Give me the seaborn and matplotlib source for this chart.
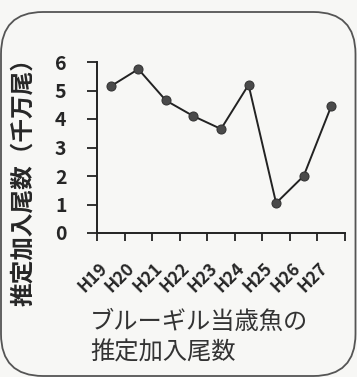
import pandas as pd
import matplotlib
matplotlib.use("Agg")
import matplotlib.pyplot as plt
import matplotlib.transforms as mtransforms
import seaborn as sns
from matplotlib.patches import FancyBboxPatch
from matplotlib.ticker import FixedLocator

years = ["H19", "H20", "H21", "H22", "H23", "H24", "H25", "H26", "H27"]
recruits = [5.15, 5.75, 4.65, 4.1, 3.65, 5.2, 1.05, 2.0, 4.45]
y_ticks = [0, 1, 2, 3, 4, 5, 6]

ylabel = "推定加入尾数（千万尾）"
caption = "ブルーギル当歳魚の\n推定加入尾数"

sns.set_style("white")
plt.rcParams["font.family"] = ["Noto Sans CJK JP", "DejaVu Sans"]

data = pd.DataFrame({"year": years, "n": recruits})

W, H = 357, 377
fig = plt.figure(figsize=(W / 100, H / 100), dpi=100)
fig.patch.set_facecolor("#f7f7f5")

# rounded frame (in inches)
frame = FancyBboxPatch((0.01, 0.01), 3.545, 3.64,
                       boxstyle="round,pad=0,rounding_size=0.42",
                       transform=fig.dpi_scale_trans, fill=False,
                       edgecolor="#555555", linewidth=1.3)
fig.patches.append(frame)

ax = fig.add_axes([97 / W, 1 - 233 / H, 248 / W, 171 / H])
ax.set_facecolor("none")
sns.lineplot(data=data, x="year", y="n", ax=ax, color="#222222",
             linewidth=1.4, marker="o", markersize=6.5,
             markerfacecolor="#4a4a4a", markeredgecolor="#333333")

ax.set_xlim(-0.5, len(years) - 0.5)
ax.set_ylim(0, 6)
ax.set_yticks(y_ticks)
ax.set_xticks(range(len(years)))
ax.set_xticklabels(years, rotation=45, ha="right", rotation_mode="default",
                   fontsize=12.5, fontweight="bold")
shift = mtransforms.ScaledTranslation(4 / 100, 0, fig.dpi_scale_trans)
for lab in ax.get_xticklabels():
    lab.set_transform(lab.get_transform() + shift)
ax.xaxis.set_minor_locator(FixedLocator([i - 0.5 for i in range(len(years) + 1)]))
ax.tick_params(axis="x", which="major", length=0, pad=19)
ax.tick_params(axis="x", which="minor", length=6, width=1.3, direction="out",
               bottom=True, color="#222222")
ax.tick_params(axis="y", length=7, width=1.3, direction="out", left=True,
               pad=15, color="#222222", labelsize=14)
for lab in ax.get_yticklabels():
    lab.set_fontweight("bold")

sns.despine(ax=ax)
for s in ["left", "bottom"]:
    ax.spines[s].set_linewidth(1.4)
    ax.spines[s].set_color("#222222")

ax.set_xlabel("")
ax.set_ylabel(ylabel, fontsize=17, fontweight="bold")
ax.yaxis.set_label_coords(-0.25, 0.335)

fig.text(90 / W, 1 - 337 / H, caption, fontsize=17.5, color="#333333",
         ha="left", va="center", linespacing=1.25)

fig.savefig("out.png", dpi=100, facecolor=fig.get_facecolor())
